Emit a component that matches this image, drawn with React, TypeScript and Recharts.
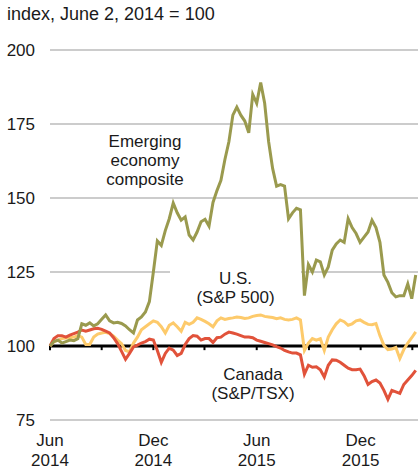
import { LineChart, Line, XAxis, YAxis, ReferenceLine } from "recharts";

// weekly observations (Mondays)
const dates = [
  "2014-06-02", "2014-06-09", "2014-06-16", "2014-06-23", "2014-06-30", "2014-07-07", "2014-07-14", "2014-07-21",
  "2014-07-28", "2014-08-04", "2014-08-11", "2014-08-18", "2014-08-25", "2014-09-01", "2014-09-08", "2014-09-15",
  "2014-09-22", "2014-09-29", "2014-10-06", "2014-10-13", "2014-10-20", "2014-10-27", "2014-11-03", "2014-11-10",
  "2014-11-17", "2014-11-24", "2014-12-01", "2014-12-08", "2014-12-15", "2014-12-22", "2014-12-29", "2015-01-05",
  "2015-01-12", "2015-01-19", "2015-01-26", "2015-02-02", "2015-02-09", "2015-02-16", "2015-02-23", "2015-03-02",
  "2015-03-09", "2015-03-16", "2015-03-23", "2015-03-30", "2015-04-06", "2015-04-13", "2015-04-20", "2015-04-27",
  "2015-05-04", "2015-05-11", "2015-05-18", "2015-05-25", "2015-06-01", "2015-06-08", "2015-06-15", "2015-06-22",
  "2015-06-29", "2015-07-06", "2015-07-13", "2015-07-20", "2015-07-27", "2015-08-03", "2015-08-10", "2015-08-17",
  "2015-08-24", "2015-08-31", "2015-09-07", "2015-09-14", "2015-09-21", "2015-09-28", "2015-10-05", "2015-10-12",
  "2015-10-19", "2015-10-26", "2015-11-02", "2015-11-09", "2015-11-16", "2015-11-23", "2015-11-30", "2015-12-07",
  "2015-12-14", "2015-12-21", "2015-12-28", "2016-01-04", "2016-01-11", "2016-01-18", "2016-01-25", "2016-02-01",
  "2016-02-08", "2016-02-15", "2016-02-22", "2016-02-29", "2016-03-07",
];

const emerging = [
  100, 101.5, 102, 101, 101.5, 102, 101.8, 102.5, 107.5, 107, 107.8, 106.8, 107.5, 109, 110.5, 108.5,
  107.8, 108, 107.6, 106.8, 105.5, 104.4, 108.8, 109.8, 111.5, 115, 125, 135.5, 134, 139, 143, 148.3,
  145, 142.5, 143.6, 137.5, 135.8, 138.5, 142, 142.8, 140.5, 148.5, 152.5, 156, 163, 169, 178, 180.7,
  178, 176, 172, 185, 182, 189, 182, 169, 160, 154, 154.5, 154, 143, 145, 146.5, 146,
  117, 127.5, 125, 129, 128.4, 124, 126.7, 132.4, 134.5, 135.8, 135, 143, 140, 138, 135, 136.8,
  138.5, 142.5, 140, 135, 124, 121.5, 118, 116.6, 117, 117, 121, 116, 124,
];

const usSp500 = [
  100, 101.5, 102, 102.5, 102.7, 102.8, 103, 103.5, 103, 100.5, 100.5, 103, 104, 104.4, 104.6, 104.2,
  103.3, 102, 100.8, 98.5, 98, 101, 103, 105.5, 106.5, 107.5, 108.5, 108, 106.5, 104.4, 107, 107.8,
  106.5, 105, 108, 107.3, 108, 109.5, 109, 108.3, 107.5, 106.5, 108.5, 109.5, 109, 109.3, 109.5, 109.8,
  109.6, 109.3, 109.5, 110, 110.3, 110.5, 110, 109.8, 109.6, 109.2, 109.5, 109, 108.8, 109, 109.5, 108.8,
  98.5, 101, 102.5, 102, 102.5, 98.5, 103, 105.5, 107.5, 108.8, 108.2, 107, 107.5, 108.5, 108.8, 108,
  107.3, 107.2, 107.6, 103.5, 100.2, 98.8, 99, 99.5, 95.8, 98.8, 101, 102.8, 104.8,
];

const canadaTsx = [
  100, 102.5, 103.5, 103.5, 103, 103.7, 104.2, 104.7, 105.4, 105, 105.4, 105.8, 106, 105.6, 105, 104.4,
  102.8, 100.8, 98.2, 95.5, 97.5, 99.7, 100.3, 101, 101.5, 102.3, 102, 98.5, 94.5, 97.5, 99.3, 98.6,
  96.8, 97.5, 100.5, 102.5, 103.5, 103.3, 102, 102.5, 102.5, 101.2, 102.8, 103, 104, 104.7, 104.4, 104,
  103.5, 103, 103, 102.8, 102, 101.6, 101.2, 100.8, 100.4, 99.8, 99.3, 98.5, 98, 97.6, 97.6, 97,
  90.5, 93.5, 92.8, 93, 92, 89.5, 93.5, 95.3, 95.2, 94.5, 93.5, 92.5, 92, 92, 92.2, 90,
  87, 88, 88.5, 87.5, 85, 82, 85, 84.5, 84, 87, 88.5, 90, 91.8,
];

const yTicks = [75, 100, 125, 150, 175, 200];
const gridValues = [125, 150, 175, 200];
const xLabelDates = ["2014-06-02", "2014-12-01", "2015-06-01", "2015-12-01"];
const xLabels = [["Jun", "2014"], ["Dec", "2014"], ["Jun", "2015"], ["Dec", "2015"]];
const quarterDates = ["2014-06-02", "2014-09-01", "2014-12-01", "2015-03-01", "2015-06-01", "2015-09-01", "2015-12-01", "2016-03-01"];
const xStart = "2014-06-02";
const xEnd = "2016-03-11";

const toTime = (d: string) => Date.parse(d + "T00:00:00Z");

const data = dates.map((d, i) => ({
  t: toTime(d),
  emerging: emerging[i],
  us: usSp500[i],
  canada: canadaTsx[i],
}));

const FONT = "'Liberation Sans', Arial, sans-serif";
const TEXT = "#1a1a1a";

function DateTick(props: any) {
  const { x, y, payload } = props;
  const idx = xLabelDates.findIndex((d) => toTime(d) === payload.value);
  if (idx < 0) return null;
  const [m, yr] = xLabels[idx];
  return (
    <text x={x} y={y} textAnchor="middle" fontSize={17} fill={TEXT} fontFamily={FONT}>
      <tspan x={x} dy={26}>{m}</tspan>
      <tspan x={x} dy={20}>{yr}</tspan>
    </text>
  );
}

const labelStyle = {
  position: "absolute" as const,
  fontFamily: FONT,
  fontSize: 17,
  lineHeight: "19px",
  color: TEXT,
  textAlign: "center" as const,
};

export default function App() {
  return (
    <div style={{ position: "absolute", left: 0, top: 0, width: 418, height: 471, background: "#fff", overflow: "hidden" }}>
      <LineChart
        width={418}
        height={471}
        data={data}
        margin={{ top: 50, right: 0, left: 0, bottom: 0 }}
        style={{ fontFamily: FONT }}
      >
        <XAxis
          dataKey="t"
          type="number"
          domain={[toTime(xStart), toTime(xEnd)]}
          ticks={xLabelDates.map(toTime)}
          interval={0}
          height={51}
          axisLine={false}
          tickLine={false}
          tickSize={0}
          tickMargin={0}
          tick={(p: any) => <DateTick {...p} />}
        />
        <YAxis
          type="number"
          domain={[75, 200]}
          ticks={yTicks}
          interval={0}
          width={50}
          axisLine={false}
          tickLine={false}
          tickSize={0}
          tickMargin={15}
          tick={{ fontSize: 17, fill: TEXT, fontFamily: FONT }}
        />
        {gridValues.map((v) => (
          <ReferenceLine key={v} y={v} stroke="#9a9a9a" strokeWidth={1.2} />
        ))}
        <ReferenceLine y={75} stroke="#bdbdbd" strokeWidth={1.6} />
        <ReferenceLine y={100} stroke="#000" strokeWidth={3} />
        {quarterDates.map((d) => (
          <ReferenceLine
            key={d}
            segment={[{ x: toTime(d), y: 100 }, { x: toTime(d), y: 98.6 }]}
            stroke="#000"
            strokeWidth={2}
          />
        ))}
        <Line type="linear" dataKey="us" stroke="#fdca6b" strokeWidth={3} dot={false} isAnimationActive={false} />
        <Line type="linear" dataKey="canada" stroke="#e1523a" strokeWidth={3} dot={false} isAnimationActive={false} />
        <Line type="linear" dataKey="emerging" stroke="#9a9a4e" strokeWidth={3} dot={false} isAnimationActive={false} />
      </LineChart>

      <div style={{ ...labelStyle, left: 7, top: 5, fontSize: 18, textAlign: "left" }}>index, June 2, 2014 = 100</div>
      <div style={{ ...labelStyle, left: 85, top: 132, width: 120 }}>
        Emerging
        <br />
        economy
        <br />
        composite
      </div>
      <div style={{ ...labelStyle, left: 170, top: 267, width: 131, height: 40, background: "#fff", paddingTop: 2, boxSizing: "border-box" }}>
        U.S.
        <br />
        (S&amp;P 500)
      </div>
      <div style={{ ...labelStyle, left: 193, top: 365, width: 120 }}>
        Canada
        <br />
        (S&amp;P/TSX)
      </div>
    </div>
  );
}
